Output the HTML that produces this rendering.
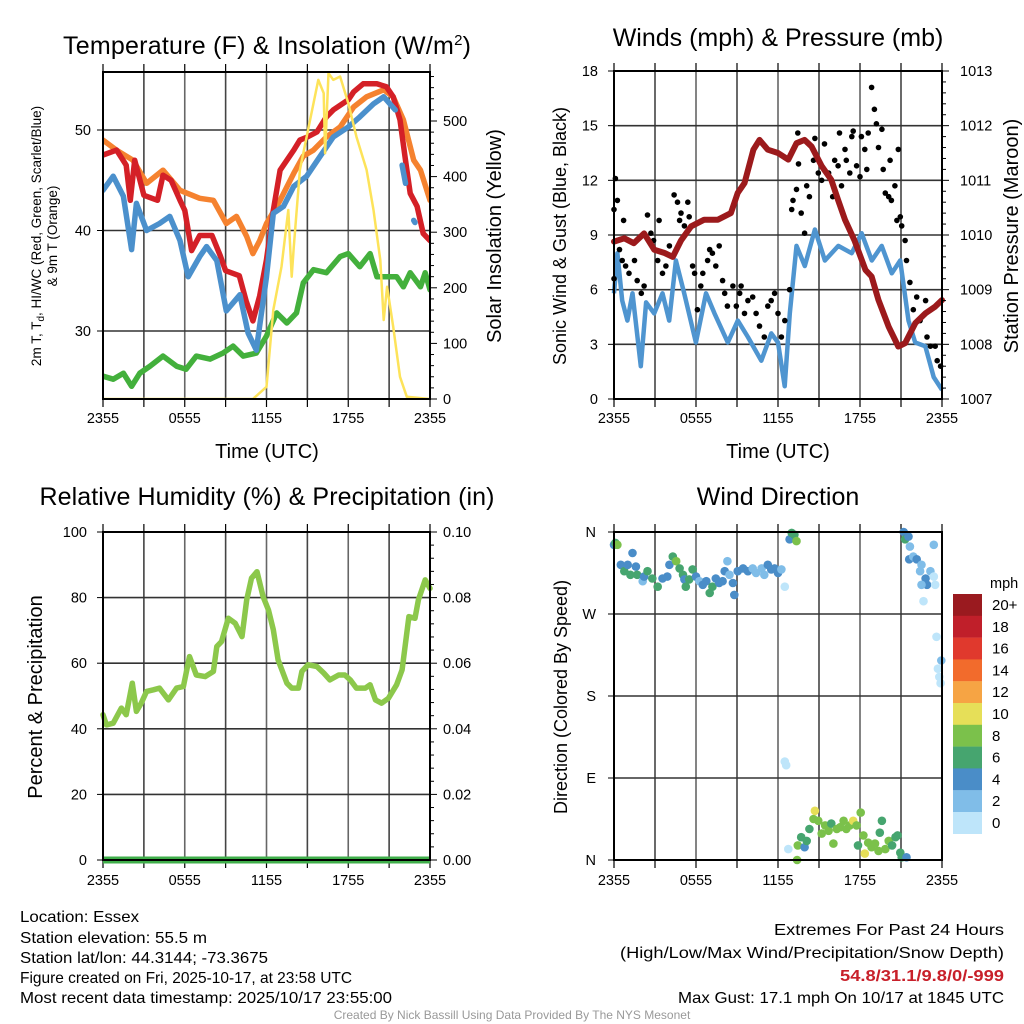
<!DOCTYPE html>
<html><head><meta charset="utf-8">
<style>
body{margin:0;background:#fff;}
svg{display:block;font-family:"Liberation Sans",sans-serif;}
</style></head>
<body>
<svg id="chart" width="1024" height="1024" viewBox="0 0 1024 1024">
<rect width="1024" height="1024" fill="#fff"/>
<g id="g1"></g>
<g id="g2"></g>
<g id="g3"></g>
<g id="g4"></g>
<g id="cb"></g>
<text x="267" y="54" font-size="25" text-anchor="middle" textLength="408">Temperature (F) &amp; Insolation (W/m<tspan dy="-9" font-size="15">2</tspan><tspan dy="9">)</tspan></text>
<text x="778" y="46" font-size="25" text-anchor="middle">Winds (mph) &amp; Pressure (mb)</text>
<text x="267" y="505" font-size="25" text-anchor="middle" textLength="455">Relative Humidity (%) &amp; Precipitation (in)</text>
<text x="778" y="505" font-size="25" text-anchor="middle">Wind Direction</text>
<text x="267" y="458" font-size="20" text-anchor="middle">Time (UTC)</text>
<text x="778" y="458" font-size="20" text-anchor="middle">Time (UTC)</text>
<text transform="translate(41,236) rotate(-90)" font-size="13.5" text-anchor="middle">2m T, T<tspan dy="3" font-size="10">d</tspan><tspan dy="-3">, HI/WC (Red, Green, Scarlet/Blue)</tspan></text>
<text transform="translate(57,236) rotate(-90)" font-size="13.5" text-anchor="middle">&amp; 9m T (Orange)</text>
<text transform="translate(501,236) rotate(-90)" font-size="20" text-anchor="middle">Solar Insolation (Yellow)</text>
<text transform="translate(566,236) rotate(-90)" font-size="18" text-anchor="middle">Sonic Wind &amp; Gust (Blue, Black)</text>
<text transform="translate(1018,236) rotate(-90)" font-size="20" text-anchor="middle">Station Pressure (Maroon)</text>
<text transform="translate(42,697) rotate(-90)" font-size="20" text-anchor="middle">Percent &amp; Precipitation</text>
<text transform="translate(567,697) rotate(-90)" font-size="18" text-anchor="middle">Direction (Colored By Speed)</text>
<g font-size="16">
<text x="20" y="922" textLength="119" lengthAdjust="spacingAndGlyphs">Location: Essex</text>
<text x="20" y="943" textLength="187" lengthAdjust="spacingAndGlyphs">Station elevation: 55.5 m</text>
<text x="20" y="963" textLength="248" lengthAdjust="spacingAndGlyphs">Station lat/lon: 44.3144; -73.3675</text>
<text x="20" y="983" textLength="332" lengthAdjust="spacingAndGlyphs">Figure created on Fri, 2025-10-17, at 23:58 UTC</text>
<text x="20" y="1003" textLength="372" lengthAdjust="spacingAndGlyphs">Most recent data timestamp: 2025/10/17 23:55:00</text>
</g>
<g font-size="16" text-anchor="end">
<text x="1004" y="935" textLength="230" lengthAdjust="spacingAndGlyphs">Extremes For Past 24 Hours</text>
<text x="1004" y="958" textLength="384" lengthAdjust="spacingAndGlyphs">(High/Low/Max Wind/Precipitation/Snow Depth)</text>
<text x="1004" y="981" fill="#c8202a" font-weight="bold" textLength="164" lengthAdjust="spacingAndGlyphs">54.8/31.1/9.8/0/-999</text>
<text x="1004" y="1003" textLength="326" lengthAdjust="spacingAndGlyphs">Max Gust: 17.1 mph On 10/17 at 1845 UTC</text>
</g>
<text x="512" y="1019" font-size="12" fill="#999" text-anchor="middle">Created By Nick Bassill Using Data Provided By The NYS Mesonet</text>
</svg>
<script>
// ---- Temperature panel data (hours from 2355 UTC) ----
const redT=[0,1,1.7,2,2.33,3,4,4.4,5,5.65,6,6.5,7.1,8,8.6,9,10,10.5,11,11.5,12,12.5,13,13.5,14,14.45,15,15.7,16.4,16.9,18,18.4,19.1,20.1,20.8,21.3,21.8,22.2,22.55,23.05,23.5,24];
const redV=[47.5,48,46.5,43,47,43.5,43,45.5,45,43,42,38,39.5,39.5,37.5,36,35.5,33,31,33.5,37.1,42,46,47,48,49,49.3,49.8,51.3,52,53,53.8,54.6,54.6,54.3,53.3,51,47,43.7,42.4,39.7,39];
const orgT=[0,0.98,2.2,3.2,4.4,5.65,7.1,8.1,9.05,9.8,10.55,11,11.5,12,13,14,14.7,15.45,16.4,17.4,18.4,19.35,20.6,21.3,22.05,22.8,23.3,24];
const orgV=[49,48,47,44.7,46,44,43.2,43,40.7,41.4,39.4,37.7,39,40.7,43,45.7,47.4,48,49.3,50.3,52.3,53.3,54,53.3,51,47,46,43];
const bluT=[0,0.75,1.5,2.1,2.45,3.2,4.15,4.9,5.65,6.25,7.1,7.6,8.35,9.05,10.05,10.65,11.25,12,12.5,13.25,14,14.95,15.95,16.9,18,18.85,19.85,20.6,21.45,null,21.95,22.2,null,22.8,22.9];
const bluV=[44,45.4,43.4,38.1,42.7,40,40.7,41.4,39,35.4,37.4,38.4,37,32,33.6,29.8,28.1,35.4,41.7,42.4,44.4,45.4,47.4,49.3,50.3,51.3,52.6,53.3,52,null,46.5,44.7,null,41,40.8];
const grnT=[0,0.75,1.5,2.1,2.7,3.45,4.4,5.4,6.1,6.85,7.85,8.8,9.55,10.3,11.25,12,12.75,13.5,14.2,14.7,15.45,16.4,17.4,18,18.85,19.6,20.1,20.8,21.55,22.05,22.55,23.3,23.65,24];
const grnV=[25.5,25.2,25.8,24.5,25.8,26.5,27.5,26.5,26.2,27.5,27.2,27.8,28.5,27.5,27.8,29.5,31.8,30.8,31.8,34.8,36.1,35.8,37.4,37.7,36.4,37.7,35.4,35.4,35.4,34.4,35.8,34.4,35.8,34.1];
const solT=[0,11,12,12.5,13.1,13.6,13.85,14,14.45,15.2,15.8,16.2,16.3,16.55,16.9,17.4,18,18.6,19.35,19.85,20.35,20.6,20.85,21.3,21.8,22.3,24];
const solV=[0,0,22,160,238,340,220,274,412,502,574,550,442,586,574,580,532,472,412,340,250,142,202,130,40,4,0];
const tempTicks=[30,40,50];
const solarTicks=[0,100,200,300,400,500];
const timeLabels=["2355","0555","1155","1755","2355"];
// ---- Wind panel data ----
const presT=[0,0.75,1.45,2.2,2.95,3.7,4.3,4.9,5.65,6.6,7.6,8.55,9.05,9.55,10.2,10.65,11.25,12,12.75,13.35,13.95,14.45,15.2,15.9,16.4,16.9,17.6,18.4,18.85,19.35,20.1,20.8,21.3,22.05,22.8,23.5,24];
const presV=[1009.88,1009.94,1009.85,1010.03,1009.73,1009.67,1009.6,1009.9,1010.16,1010.28,1010.28,1010.4,1010.77,1010.95,1011.56,1011.74,1011.56,1011.5,1011.38,1011.68,1011.74,1011.62,1011.26,1011.01,1010.64,1010.28,1009.9,1009.36,1009.24,1008.81,1008.32,1007.96,1008.02,1008.39,1008.57,1008.69,1008.81];
const windT=[0,0.25,0.6,0.98,1.35,1.96,2.35,2.94,3.55,4.04,4.53,5.14,5.99,6.73,7.35,8.33,9.06,9.8,10.78,11.51,12,12.49,12.86,13.35,13.96,14.7,15.43,16.41,17.39,18.12,18.86,19.59,20.33,20.94,21.55,22.04,22.78,23.39,24];
const windV=[5.8,8,5.4,4.3,5.8,1.8,5.3,4.7,5.8,4.3,7.6,5.8,3.1,5.8,4.7,3.1,4.3,3.4,2.1,3.6,3.1,0.7,4.7,8.4,7.3,9.3,7.6,8.4,8,9.1,7.6,8.4,6.9,7.6,4.3,3.1,2.9,1.2,0.5];
const gustT=[0,0.1,0.25,0,0.4,0.7,0.6,0.85,1.1,1.5,1.7,2,2.2,2.45,2.7,2.9,3.2,3.3,3.55,3.8,4.05,4.4,4.65,4.9,4.8,5.15,5.4,5.5,5.75,5.9,6.1,6.35,6.5,6.85,7,7.2,7.45,7.7,7.95,8.1,8.3,8.7,8.95,9.2,9.3,9.55,9.8,10.15,10.4,10.65,11,11.25,11.5,11.75,12,12.25,12.5,12.85,13,13.1,13.35,13.5,13.45,13.7,13.95,14.1,14.3,14.6,14.7,14.95,15.2,15.4,15.7,16,16.15,16.4,16.5,16.65,16.9,17,17.25,17.4,17.5,17.75,18,18.1,18.35,18.5,18.6,18.85,19.05,19.2,19.35,19.6,19.7,19.85,20.1,20.2,20.3,20.55,20.7,20.8,20.95,21.05,21.3,21.4,21.65,21.9,22.15,22.4,22.8,22.9,23.15,23.5,23.65,23.9];
const gustV=[10.4,12.1,10.9,6.6,8.2,9.8,7.6,7.3,6.9,7.6,6.5,5.8,6.2,10.1,9.1,8.7,7.6,9.8,6.9,7.3,8.4,11.2,10.8,10.2,9.8,9.5,10.8,10,7.3,6.9,4.9,6.2,6.9,7.6,8.2,8,7.3,8.4,6.5,5.8,5.1,6.2,5.1,5.8,6.2,4.7,5.4,5.6,4.7,4,3.4,5.1,5.4,5.8,4.7,3.4,4.3,6,10.4,10.9,11.5,12.9,14.6,10.2,9.1,11.7,11.1,13.1,14.3,12.4,12,14,12.4,11.1,13.1,12.8,14.6,11.7,13.7,13.1,12.4,14.4,14.7,12.8,12.2,14.4,13.7,12.6,14.6,17.1,15.9,15.1,13.8,14.8,12.6,11.3,11.1,13.1,10.9,11.7,9.8,13.7,10,9.5,8.7,7.6,6.4,4.9,5.6,4.3,5.4,3.4,2.9,2.9,2.1,1.8];
const windTicks=[0,3,6,9,12,15,18];
const presTicks=[1007,1008,1009,1010,1011,1012,1013];
// ---- Humidity panel data ----
const rhT=[0,0.25,0.75,1.35,1.7,2.15,2.45,2.8,3.2,3.7,4.15,4.8,5.4,5.9,6.35,6.85,7.5,8.1,8.35,8.7,9.2,9.7,10.2,10.55,10.9,11.3,11.75,12.15,12.5,12.85,13.5,13.85,14.35,14.6,15.05,15.7,16.2,16.65,17.3,17.75,18.15,18.6,19.25,19.6,20,20.45,20.95,21.55,21.95,22.2,22.45,22.9,23.15,23.65,24];
const rhV=[44.3,41.2,41.7,46.3,44.3,53.9,45.3,47.8,51.4,51.9,52.4,48.8,52.4,52.9,62,56.4,55.9,57.5,65.1,66.6,73.7,72.2,68.1,79.3,85.9,87.9,80.3,76.2,70.2,61,53.9,52.4,52.4,57.5,59.5,59,57,54.9,56.4,56.4,54.9,52.4,52.4,53.4,48.8,47.8,49.3,53.4,58,66.1,74.2,73.7,79.3,85.4,82.8];
const precipT=[0,24];
const precipV=[0,0];
const rhTicks=[0,20,40,60,80,100];
const precipTicks=["0.00","0.02","0.04","0.06","0.08","0.10"];
// ---- Direction panel data ----
const dirT=[0,0.1,0.25,0.5,0.75,1,1.2,1.35,1.6,1.7,2.1,2.2,2.45,2.8,3.2,3.55,3.9,4.05,4.3,4.55,4.8,5.05,5.15,5.25,5.5,5.75,6,6.25,6.5,6.75,7,7.2,7.45,7.7,7.95,8.1,8.3,8.45,8.7,8.8,9.05,9.45,9.8,10.15,10.4,10.8,11,11.25,11.5,11.75,12,12.25,12.5,12.85,13,13.2,13.35,12.5,12.6,12.75,13.4,13.45,13.7,13.95,14.1,14.3,14.6,14.7,14.95,15.2,15.45,15.7,15.9,16.05,16.3,16.55,16.8,17,17.25,17.5,17.75,17.85,18.05,18.25,18.35,18.6,18.85,19.1,19.35,19.45,19.6,19.85,20.1,20.35,20.6,20.75,20.95,21.05,21.4,21.2,21.3,21.55,21.65,21.6,21.9,22.15,22.4,22.5,22.8,22.9,22.5,23.15,23.4,23.5,23.4,22.65,23.6,23.95,23.7,23.8,23.9];
const dirV=[346,348,346,324,317,324,313,337,322,313,306,311,317,309,300,309,311,324,333,328,320,313,308,300,308,319,311,306,302,306,293,300,309,304,306,317,328,313,304,291,317,320,317,320,315,320,313,324,319,320,315,319,300,352,359,357,350,108,104,12,0,16,25,14,21,34,45,54,43,29,38,32,40,18,34,36,43,34,38,43,38,16,52,27,7,19,14,18,10,30,43,12,21,16,25,27,8,3,3,360,352,355,344,330,333,330,317,324,309,302,302,317,311,302,346,284,245,219,210,201,194];
const dirSpd=[4,6,8,4,6,4,6,4,4,6,2,4,6,6,6,4,4,4,6,8,6,6,4,6,6,6,4,2,4,4,6,6,4,4,4,4,2,2,4,4,4,4,4,2,2,2,2,4,4,4,4,2,0,4,6,6,8,0,0,0,8,8,6,4,6,6,8,10,8,8,8,8,6,8,8,8,8,8,8,10,8,6,8,8,10,8,8,8,8,6,6,8,8,6,6,6,6,6,4,4,6,4,2,4,2,4,2,2,4,4,2,2,0,0,2,0,0,2,0,0,0];
const dirTicks=["N","E","S","W","N"];
const cbLabels=["20+","18","16","14","12","10","8","6","4","2","0"];
const cbColors=["#9a1a1f","#c01f2a","#e0392d","#f26b2c","#f6a444","#e6df58","#7bc14b","#46a56f","#4a8dc8","#80bde8","#bee5fa"];

const NS="http://www.w3.org/2000/svg";
function mk(parent,tag,attrs,name){const e=document.createElementNS(NS,tag);for(const k in attrs)e.setAttribute(k,attrs[k]);


parent.appendChild(e);return e;}
function lin(d0,d1,r0,r1){return v=>r0+(v-d0)*(r1-r0)/(d1-d0);}
function pathD(ts,vs,sx,sy){let d="",pen=false;for(let i=0;i<ts.length;i++){if(ts[i]===null||vs[i]===null){pen=false;continue;}d+=(pen?"L":"M")+sx(ts[i]).toFixed(1)+","+sy(vs[i]).toFixed(1);pen=true;}return d;}
function frame(g,x0,x1,y0,y1,hGridYs,name){
  for(let k=1;k<8;k++){const x=x0+(x1-x0)*k/8;mk(g,"line",{x1:x,x2:x,y1:y0,y2:y1,stroke:k%2?"#444":"#666","stroke-width":1.6},name+"-vgrid");}
  for(let k=0;k<=8;k++){const x=x0+(x1-x0)*k/8;mk(g,"line",{x1:x,x2:x,y1:y0-8,y2:y0,stroke:"#000","stroke-width":1.2},name+"-top-tick");mk(g,"line",{x1:x,x2:x,y1:y1,y2:y1+8,stroke:"#000","stroke-width":1.2},name+"-bottom-tick");}
  hGridYs.forEach(y=>mk(g,"line",{x1:x0,x2:x1,y1:y,y2:y,stroke:"#333","stroke-width":1.6},name+"-hgrid"));
}
function border(g,x0,x1,y0,y1,name){mk(g,"rect",{x:x0,y:y0,width:x1-x0,height:y1-y0,fill:"none",stroke:"#000","stroke-width":2},name+"-frame");}
function xLabels(g,x0,x1,y,name){timeLabels.forEach((t,i)=>{const e=mk(g,"text",{x:x0+(x1-x0)*i/4,y:y,"font-size":14.5,"text-anchor":"middle"},name+"-x-tick-label");e.textContent=t;});}

// Panel 1
(function(){const g=document.getElementById("g1");const x0=103,x1=430,y0=72,y1=399;
const sx=lin(0,24,x0,x1),sy=lin(30,50,331,130),ss=lin(0,500,399,121);
frame(g,x0,x1,y0,y1,tempTicks.map(sy),"temp");
const cp=mk(g,"clipPath",{id:"c1"},"temp-clip");mk(cp,"rect",{x:x0,y:y0,width:x1-x0,height:y1-y0},"temp-clip-rect");
const pg=mk(g,"g",{"clip-path":"url(#c1)",fill:"none","stroke-linejoin":"round","stroke-linecap":"round"},"temp-series");
mk(pg,"path",{d:pathD(grnT,grnV,sx,sy),stroke:"#43b03c","stroke-width":5.5},"dewpoint-line");
mk(pg,"path",{d:pathD(orgT,orgV,sx,sy),stroke:"#f5822f","stroke-width":5.5},"temp-9m-line");
mk(pg,"path",{d:pathD(redT,redV,sx,sy),stroke:"#d42027","stroke-width":5.5},"temp-2m-line");
mk(pg,"path",{d:pathD(bluT,bluV,sx,sy),stroke:"#4b90cc","stroke-width":5.5},"windchill-line");
mk(pg,"path",{d:pathD(solT,solV,sx,ss),stroke:"#fde35a","stroke-width":2.5},"solar-line");
border(g,x0,x1,y0,y1,"temp");
tempTicks.forEach(v=>{const y=sy(v);mk(g,"line",{x1:x0-6,x2:x0,y1:y,y2:y,stroke:"#000"},"temp-y-tick");const e=mk(g,"text",{x:x0-12,y:y+5,"font-size":14.5,"text-anchor":"end"},"temp-y-tick-label");e.textContent=v;});
for(let v=0;v<=580;v+=20){const y=ss(v);if(y<y0)break;mk(g,"line",{x1:x1,x2:x1+(v%100?4:7),y1:y,y2:y,stroke:"#000"},"solar-y-tick");}
solarTicks.forEach(v=>{const e=mk(g,"text",{x:x1+13,y:ss(v)+5,"font-size":14.5},"solar-y-tick-label");e.textContent=v;});
xLabels(g,x0,x1,423,"temp");})();

// Panel 2
(function(){const g=document.getElementById("g2");const x0=614,x1=942,y0=71,y1=399;
const sx=lin(0,24,x0,x1),sy=lin(0,18,y1,y0),sp=lin(1007,1013,y1,y0);
frame(g,x0,x1,y0,y1,windTicks.slice(1,6).map(sy),"wind");
mk(g,"path",{d:pathD(windT,windV,sx,sy),fill:"none",stroke:"#4f95d0","stroke-width":4.5,"stroke-linejoin":"round"},"wind-speed-line");
for(let i=0;i<gustT.length;i++){mk(g,"circle",{cx:sx(gustT[i]).toFixed(1),cy:sy(gustV[i]).toFixed(1),r:2.8,fill:"#000"},"gust-point");}
mk(g,"path",{d:pathD(presT,presV,sx,sp),fill:"none",stroke:"#9c1a1c","stroke-width":6,"stroke-linejoin":"round","stroke-linecap":"round"},"pressure-line");
border(g,x0,x1,y0,y1,"wind");
windTicks.forEach(v=>{const y=sy(v);mk(g,"line",{x1:x0-6,x2:x0,y1:y,y2:y,stroke:"#000"},"wind-y-tick");const e=mk(g,"text",{x:x0-16,y:y+5,"font-size":14.5,"text-anchor":"end"},"wind-y-tick-label");e.textContent=v;});
for(let v=1007;v<=1013.001;v+=0.2){const y=sp(v);mk(g,"line",{x1:x1,x2:x1+(Math.abs(v-Math.round(v))<0.01?7:4),y1:y,y2:y,stroke:"#000"},"pressure-y-tick");}
presTicks.forEach(v=>{const e=mk(g,"text",{x:x1+18,y:sp(v)+5,"font-size":14.5},"pressure-y-tick-label");e.textContent=v;});
xLabels(g,x0,x1,423,"wind");})();

// Panel 3
(function(){const g=document.getElementById("g3");const x0=103,x1=430,y0=532,y1=860;
const sx=lin(0,24,x0,x1),sy=lin(0,100,y1,y0),spr=lin(0,0.1,y1,y0);
frame(g,x0,x1,y0,y1,rhTicks.slice(1,5).map(sy),"rh");
mk(g,"path",{d:pathD(rhT,rhV,sx,sy),fill:"none",stroke:"#8cc84b","stroke-width":5.5,"stroke-linejoin":"round","stroke-linecap":"round"},"humidity-line");
mk(g,"path",{d:pathD(precipT,precipV,sx,spr),fill:"none",stroke:"#3fae4a","stroke-width":7},"precip-line");
border(g,x0,x1,y0,y1,"rh");
rhTicks.forEach(v=>{const y=sy(v);mk(g,"line",{x1:x0-6,x2:x0,y1:y,y2:y,stroke:"#000"},"rh-y-tick");const e=mk(g,"text",{x:x0-16,y:y+5,"font-size":14.5,"text-anchor":"end"},"rh-y-tick-label");e.textContent=v;});
for(let k=0;k<=25;k++){const y=spr(k*0.004);mk(g,"line",{x1:x1,x2:x1+(k%5?4:7),y1:y,y2:y,stroke:"#000"},"precip-y-tick");}
precipTicks.forEach((t,i)=>{const e=mk(g,"text",{x:x1+13,y:spr(i*0.02)+5,"font-size":14.5},"precip-y-tick-label");e.textContent=t;});
xLabels(g,x0,x1,885,"rh");})();

// Panel 4
(function(){const g=document.getElementById("g4");const x0=614,x1=942,y0=532,y1=860;
const sx=lin(0,24,x0,x1),sy=lin(0,360,y1,y0);
frame(g,x0,x1,y0,y1,[90,180,270].map(sy),"dir");
for(let i=0;i<dirT.length;i++){mk(g,"circle",{cx:sx(dirT[i]).toFixed(1),cy:sy(dirV[i]).toFixed(1),r:4.3,fill:cbColors[10-dirSpd[i]/2]},"direction-point");}
border(g,x0,x1,y0,y1,"dir");
dirTicks.forEach((t,i)=>{const y=sy(i*90);mk(g,"line",{x1:x0-6,x2:x0,y1:y,y2:y,stroke:"#000"},"dir-y-tick");const e=mk(g,"text",{x:x0-18,y:y+5,"font-size":14.5,"text-anchor":"end"},"dir-y-tick-label");e.textContent=t;});
xLabels(g,x0,x1,885,"dir");})();

// Colorbar
(function(){const g=document.getElementById("cb");const t=mk(g,"text",{x:990,y:588,"font-size":14.5},"colorbar-title");t.textContent="mph";
cbLabels.forEach((l,i)=>{const y=594+i*21.8;mk(g,"rect",{x:953,y:y,width:29,height:22,fill:cbColors[i]},"colorbar-box");const e=mk(g,"text",{x:992,y:y+16,"font-size":15},"colorbar-label");e.textContent=l;});})();
</script>
</body></html>
